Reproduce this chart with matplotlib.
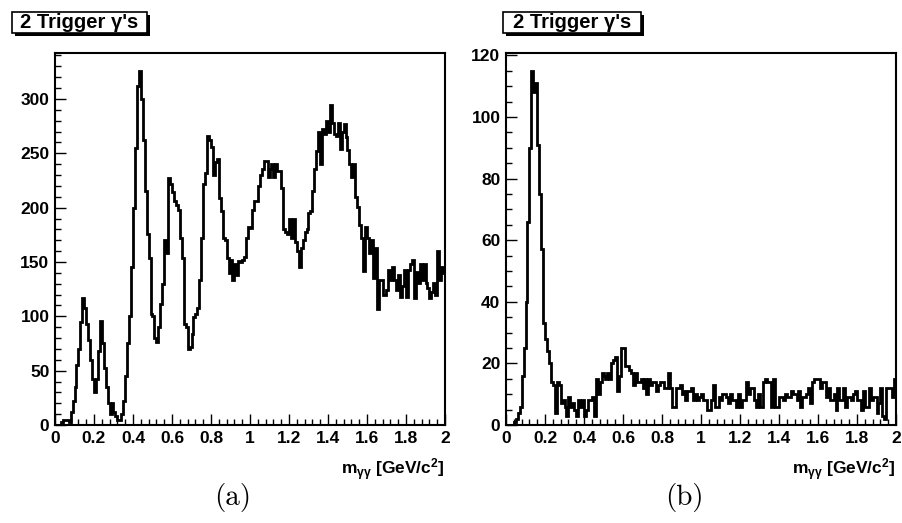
import numpy as np
import matplotlib
matplotlib.use('Agg')
import matplotlib.pyplot as plt
from matplotlib.patches import Rectangle
from matplotlib.ticker import MultipleLocator, FuncFormatter

plt.rcParams['font.family'] = ['Liberation Sans', 'DejaVu Sans']
plt.rcParams['font.weight'] = 'bold'
plt.rcParams['mathtext.fontset'] = 'custom'
plt.rcParams['mathtext.rm'] = 'Liberation Sans:bold'
plt.rcParams['mathtext.it'] = 'Liberation Sans:bold'
plt.rcParams['mathtext.bf'] = 'Liberation Sans:bold'

# 200 bins of 0.01 GeV/c^2 from 0 to 2
edges = np.linspace(0, 2, 201)

counts_a = [0, 0, 0, 3, 5, 5, 5, 3, 12, 22,
            35, 55, 70, 95, 117, 108, 93, 78, 60, 42,
            30, 42, 68, 96, 75, 52, 35, 20, 10, 20,
            12, 8, 5, 5, 10, 22, 45, 75, 100, 145,
            200, 255, 312, 326, 300, 262, 215, 176, 154, 102,
            100, 80, 76, 90, 111, 130, 170, 158, 227, 222,
            214, 206, 202, 198, 172, 154, 93, 90, 70, 72,
            84, 99, 102, 108, 133, 172, 222, 232, 266, 262,
            256, 230, 242, 245, 209, 197, 172, 170, 154, 140,
            152, 133, 148, 138, 151, 150, 152, 155, 172, 182,
            181, 198, 206, 206, 220, 230, 236, 243, 243, 228,
            236, 240, 228, 240, 234, 234, 218, 180, 178, 176,
            190, 172, 190, 168, 160, 145, 163, 170, 178, 180,
            195, 197, 215, 236, 252, 270, 240, 272, 268, 280,
            270, 294, 278, 268, 266, 278, 254, 270, 277, 265,
            253, 240, 228, 240, 210, 201, 184, 172, 142, 182,
            172, 158, 170, 135, 163, 107, 133, 133, 120, 120,
            124, 143, 133, 145, 133, 124, 138, 118, 128, 143,
            118, 143, 148, 152, 117, 141, 131, 148, 133, 148,
            131, 126, 117, 122, 131, 120, 160, 133, 145, 140]

counts_b = [0, 0, 0, 0, 1, 2, 4, 6, 16, 25,
            40, 66, 90, 115, 108, 111, 91, 75, 57, 33,
            28, 24, 20, 14, 13, 4, 14, 13, 7, 8,
            6, 3, 9, 6, 7, 5, 3, 8, 6, 8,
            3, 5, 8, 8, 9, 3, 15, 10, 14, 17,
            16, 15, 17, 15, 20, 21, 22, 11, 16, 25,
            25, 19, 19, 18, 17, 13, 17, 14, 14, 15,
            12, 15, 10, 15, 13, 14, 14, 11, 13, 14,
            14, 12, 12, 17, 12, 6, 6, 12, 12, 13,
            10, 11, 8, 11, 11, 12, 8, 10, 8, 9,
            10, 8, 8, 5, 5, 8, 13, 6, 6, 9,
            8, 10, 10, 9, 7, 10, 8, 8, 6, 10,
            6, 8, 8, 14, 10, 12, 12, 8, 6, 10,
            6, 6, 14, 15, 14, 14, 6, 15, 6, 6,
            9, 9, 8, 10, 9, 9, 11, 10, 10, 8,
            11, 6, 9, 9, 10, 12, 7, 14, 15, 15,
            15, 12, 14, 14, 9, 12, 8, 8, 10, 5,
            12, 8, 8, 12, 6, 9, 9, 8, 10, 11,
            8, 8, 5, 11, 6, 6, 12, 8, 9, 9,
            4, 7, 12, 3, 2, 12, 12, 12, 9, 15]

title_text = "2 Trigger \u03b3's"
xlabel_text = r"$\mathrm{m}_{\gamma\gamma}$ [GeV/c$^{2}$]"
captions = ['(a)', '(b)']

W, H = 903, 523
fig = plt.figure(figsize=(W / 100, H / 100), dpi=100)

# axes left edge, title box (x0, x1) in pixels, data, y major / minor step
panels = [
    (55, (12, 147), counts_a, 50, 10),
    (506, (503, 641), counts_b, 20, 5),
]

fmt = FuncFormatter(lambda v, p: '%g' % round(v, 3))

for k, (ax_x, (bx0, bx1), counts, ymaj, ymin) in enumerate(panels):
    ax = fig.add_axes([ax_x / W, 1 - 425 / H, 390 / W, 372 / H])
    ax.stairs(counts, edges, color='black', lw=2.0, baseline=None)
    ax.set_xlim(0, 2)
    ax.set_ylim(0, 1.05 * max(counts))
    ax.xaxis.set_major_locator(MultipleLocator(0.2))
    ax.xaxis.set_minor_locator(MultipleLocator(0.04))
    ax.yaxis.set_major_locator(MultipleLocator(ymaj))
    ax.yaxis.set_minor_locator(MultipleLocator(ymin))
    ax.xaxis.set_major_formatter(fmt)
    ax.yaxis.set_major_formatter(fmt)
    ax.tick_params(which='both', direction='in', top=False, right=False,
                   width=1.0, labelsize=12.5)
    ax.tick_params(which='major', length=8, pad=4)
    ax.tick_params(which='minor', length=4)
    for lab in ax.get_xticklabels() + ax.get_yticklabels():
        lab.set_fontweight('bold')
    for s in ax.spines.values():
        s.set_linewidth(1.5)
    ax.text(1.0, -0.12, xlabel_text, transform=ax.transAxes, ha='right',
            va='center', fontsize=12.5, fontweight='bold')

    # ROOT-style title box with drop shadow
    by0, by1 = 12, 33
    fig.patches.append(Rectangle(((bx0 + 3) / W, 1 - (by1 + 3) / H),
                                 (bx1 - bx0) / W, (by1 - by0) / H,
                                 transform=fig.transFigure, fc='black',
                                 ec='black', lw=0, zorder=1))
    fig.patches.append(Rectangle((bx0 / W, 1 - by1 / H),
                                 (bx1 - bx0) / W, (by1 - by0) / H,
                                 transform=fig.transFigure, fc='white',
                                 ec='black', lw=1.2, zorder=2))
    fig.text((bx0 + bx1) / 2 / W, 1 - (by0 + by1) / 2 / H, title_text,
             fontsize=14.5, fontweight='bold', ha='center', va='center',
             zorder=3)

    fig.text((ax_x + 178) / W, 1 - 497 / H, captions[k], fontsize=21,
             family='cmr10', ha='center', va='center', fontweight='normal')

fig.savefig('out.png', dpi=100)
